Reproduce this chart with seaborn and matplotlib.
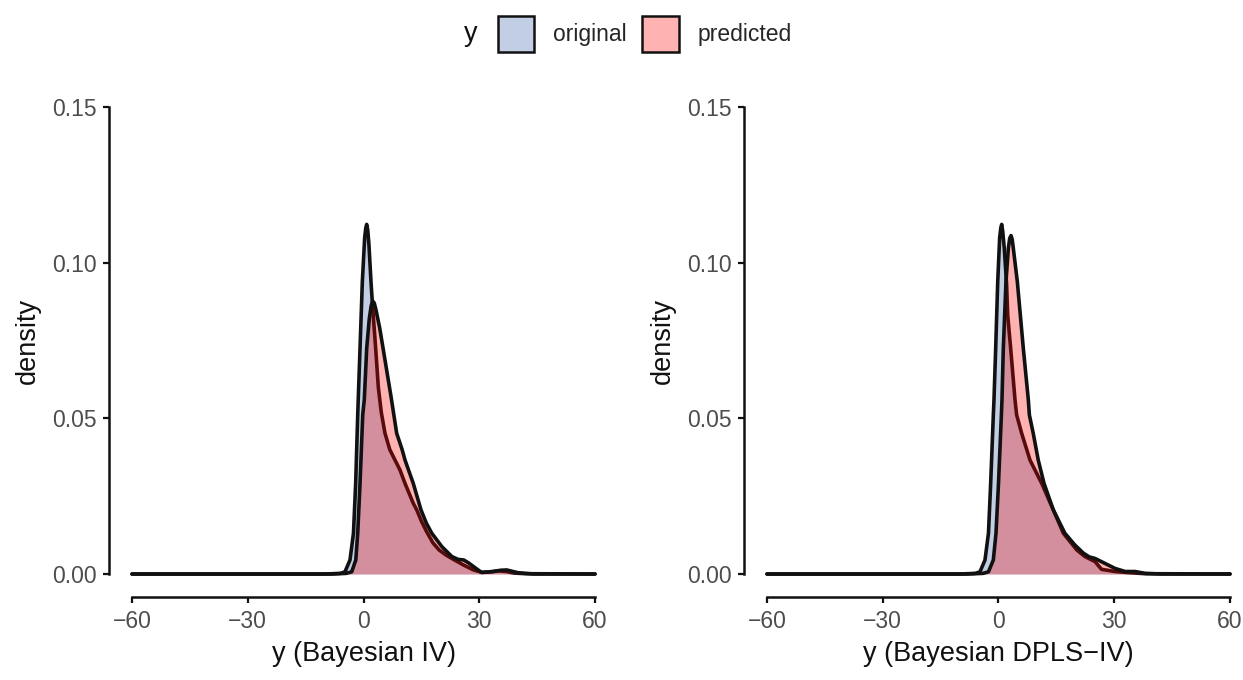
import matplotlib
matplotlib.use("Agg")
import matplotlib.pyplot as plt
from matplotlib.patches import Patch
from matplotlib.colors import to_rgba
import seaborn as sns
import pandas as pd

# ---------------- data ----------------
series_names = ["original", "predicted"]
x_ticks = [-60, -30, 0, 30, 60]
x_tick_labels = ["\u221260", "\u221230", "0", "30", "60"]
y_ticks = [0.00, 0.05, 0.10, 0.15]
y_tick_labels = ["0.00", "0.05", "0.10", "0.15"]
panel_titles = ["y (Bayesian IV)", "y (Bayesian DPLS\u2212IV)"]

# Panel 1: Bayesian IV
iv_orig_x = [-60, -10, -6, -4.8, -3.5, -2.6, -2.03, -1.5, -0.9, -0.3, 0.3, 0.6, 0.83, 1.1, 1.4,
             1.94, 2.3, 3.15, 3.84, 4.6, 5.57, 6.8, 8.16, 9.46, 10.76, 12.9, 13.8, 15.0, 16.4,
             18.0, 19.6, 21.5, 23.3, 25.9, 28.5, 30.8, 33.0, 35.0, 37.0, 39.0, 42.0, 60]
iv_orig_d = [0, 0, 0.0002, 0.0007, 0.0045, 0.0131, 0.0291, 0.0511, 0.0725, 0.0939, 0.1080,
             0.1112, 0.1123, 0.1105, 0.1060, 0.0939, 0.0870, 0.0725, 0.0600, 0.0520, 0.0452,
             0.0400, 0.0366, 0.0334, 0.0291, 0.0227, 0.0206, 0.0170, 0.0135, 0.0100, 0.0077,
             0.0060, 0.0047, 0.0029, 0.0013, 0.0005, 0.0007, 0.0010, 0.0008, 0.0003, 0.0001, 0]
iv_pred_x = [-60, -8, -4.5, -3.06, -2.0, -1.5, -0.9, -0.2, 0.2, 0.83, 1.5, 2.0, 2.38, 2.8,
             3.2, 4.2, 5.14, 6.2, 7.13, 8.6, 10.0, 10.76, 12.9, 14.9, 16.3, 17.7, 20.3, 22.9,
             24.5, 26.0, 27.3, 28.5, 30.6, 33.6, 35.5, 37.1, 40.1, 44.0, 60]
iv_pred_d = [0, 0, 0.0002, 0.0007, 0.0045, 0.0131, 0.0291, 0.0511, 0.0559, 0.0725, 0.0820,
             0.0862, 0.0877, 0.0870, 0.0850, 0.0790, 0.0720, 0.0640, 0.0570, 0.0452, 0.0400,
             0.0366, 0.0291, 0.0206, 0.0163, 0.0131, 0.0088, 0.0056, 0.0047, 0.0045, 0.0035,
             0.0024, 0.0005, 0.0008, 0.0012, 0.0013, 0.0004, 0.0, 0]

# Panel 2: Bayesian DPLS-IV
dpls_orig_x = [-60, -10, -6, -4.8, -3.5, -2.6, -2.03, -1.34, -1.17, -0.73, -0.2, 0.3, 0.6,
               0.83, 1.1, 1.5, 2.1, 2.38, 3.15, 4.28, 4.7, 6.0, 8.16, 11.2, 14.2, 16.8, 20.3,
               22.4, 25.0, 26.7, 30.2, 33.0, 38.0, 60]
dpls_orig_d = [0, 0, 0.0002, 0.0007, 0.0045, 0.0131, 0.0291, 0.0511, 0.0559, 0.0725, 0.0939,
               0.1080, 0.1112, 0.1123, 0.1100, 0.1046, 0.0930, 0.0832, 0.0725, 0.0559, 0.0511,
               0.0452, 0.0366, 0.0291, 0.0206, 0.0131, 0.0077, 0.0056, 0.0040, 0.0015, 0.0008,
               0.0005, 0.0001, 0]
dpls_pred_x = [-60, -8, -4, -2.6, -1.34, -0.65, 0.0, 0.75, 0.9, 1.25, 1.94, 2.55, 2.9, 3.24,
               3.55, 3.84, 4.88, 6.43, 7.73, 8.0, 9.0, 10.3, 11.8, 14.2, 17.2, 19.8, 22.0,
               23.5, 25.0, 27.6, 30.2, 32.8, 35.4, 38.0, 42.0, 60]
dpls_pred_d = [0, 0, 0.0002, 0.0007, 0.0045, 0.0131, 0.0291, 0.0511, 0.0559, 0.0725, 0.0939,
               0.1046, 0.1078, 0.1087, 0.1075, 0.1046, 0.0939, 0.0725, 0.0559, 0.0511, 0.0452,
               0.0366, 0.0291, 0.0206, 0.0131, 0.0093, 0.0067, 0.0055, 0.0050, 0.0034, 0.0018,
               0.0008, 0.0008, 0.0002, 0, 0]

panels = [
    [(iv_orig_x, iv_orig_d), (iv_pred_x, iv_pred_d)],
    [(dpls_orig_x, dpls_orig_d), (dpls_pred_x, dpls_pred_d)],
]

# ---------------- style ----------------
sns.set_theme(style="ticks")
plt.rcParams["font.family"] = ["Liberation Sans", "DejaVu Sans"]

fill_colors = ["#375FA8", "#FF0000"]
fill_alpha = 0.3
tick_fs = 16.5
title_fs = 19.5
W, H = 1243, 680
fig = plt.figure(figsize=(W / 100, H / 100), dpi=100)

# axes positions in pixels (left, right) of the padded panel
panel_px = [(108.85, 618.15), (743.85, 1253.15)]
top_px, bot_px = 83.65, 597.35

for i, (curves, (lpx, rpx)) in enumerate(zip(panels, panel_px)):
    ax = fig.add_axes([lpx / W, 1 - bot_px / H, (rpx - lpx) / W, (bot_px - top_px) / H])
    z = 1
    for (xs, ds), col, name in zip(curves, fill_colors, series_names):
        df = pd.DataFrame({"x": xs, "density": ds})
        ax.fill_between(df["x"], 0, df["density"], color=col, alpha=fill_alpha,
                        linewidth=0, zorder=z)
        sns.lineplot(data=df, x="x", y="density", ax=ax, color="#111111", lw=2.6,
                     sort=False, zorder=z + 1, estimator=None)
        ax.lines[-1].set_solid_joinstyle("round")
        z += 2
    ax.set_xlim(-66, 66)
    ax.set_ylim(-0.0075, 0.1575)
    ax.set_xticks(x_ticks)
    ax.set_xticklabels(x_tick_labels)
    ax.set_yticks(y_ticks)
    ax.set_yticklabels(y_tick_labels)
    ax.tick_params(axis="both", labelsize=tick_fs, labelcolor="#4D4D4D", color="#111111",
                   length=4.5, width=1.6, pad=4.5)
    ax.set_xlabel(panel_titles[i], fontsize=title_fs, color="#111111", labelpad=6)
    ax.set_ylabel("density", fontsize=title_fs, color="#111111", labelpad=8)
    for s in ["left", "bottom"]:
        ax.spines[s].set_linewidth(1.8)
        ax.spines[s].set_color("#111111")
    ax.set_facecolor("none")
    ax.grid(False)
    sns.despine(ax=ax, trim=True)

# legend
handles = [Patch(facecolor=to_rgba(c, fill_alpha), edgecolor="#111111", linewidth=1.8)
           for c in fill_colors]
fig.text(471 / W, 1 - 34 / H, "y", fontsize=title_fs, ha="center", va="center",
         color="#111111")
fig.legend(handles, series_names, loc="center", bbox_to_anchor=(644.5 / W, 1 - 34 / H),
           ncol=2, frameon=False, fontsize=tick_fs, handlelength=1.6, handleheight=2.1,
           handletextpad=0.8, columnspacing=0.7, borderpad=0, borderaxespad=0)

fig.savefig("out.png", dpi=100)
